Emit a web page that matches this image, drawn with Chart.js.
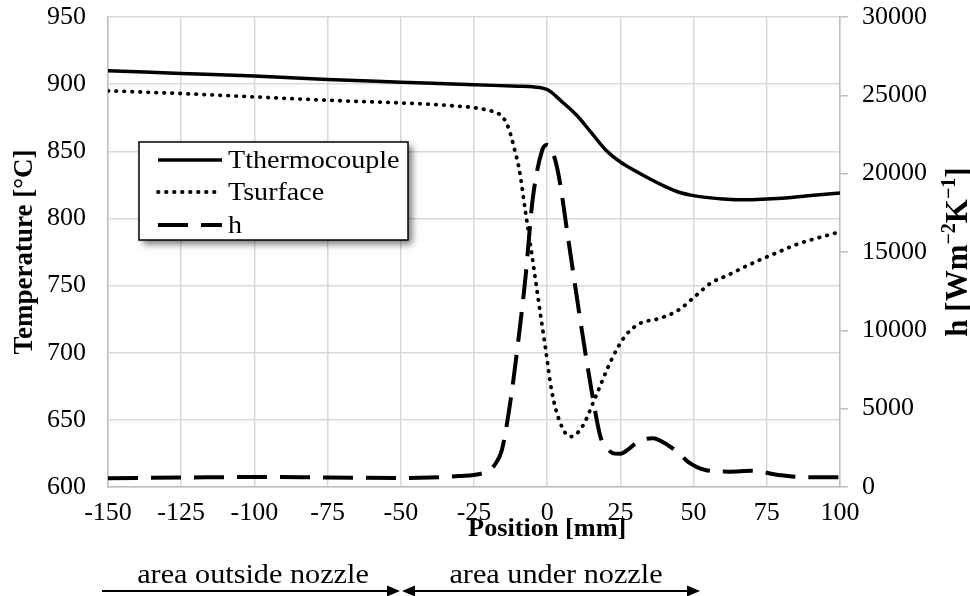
<!DOCTYPE html>
<html>
<head>
<meta charset="utf-8">
<title>Temperature and h along position</title>
<script src="https://cdn.jsdelivr.net/npm/chart.js@4.4.0/dist/chart.umd.min.js"></script>
<style>
  html, body { margin: 0; padding: 0; background: #fff; }
  #wrap { width: 970px; height: 596px; }
</style>
</head>
<body>
<div id="wrap"><canvas id="myChart" width="970" height="596"></canvas></div>
<script>
// values
var thermoPos  = [-150, -125, -100, -75, -50, -25, -10, -5, 0, 5, 10, 15, 20, 25, 30, 35, 40, 45, 50, 55, 60, 65, 70, 75, 80, 85, 90, 95, 100];
var thermoTemp = [910, 908, 906, 903.5, 901.5, 899.5, 898.5, 898, 896, 887, 877, 864, 851, 842, 835.5, 829.5, 824, 819.5, 817, 815.5, 814.5, 814, 814, 814.5, 815, 816, 817, 818, 819];

var surfPos  = [-150, -125, -100, -75, -50, -40, -30, -25, -20, -17, -15, -13, -11, -9.5, -7.5, -5.5, -3, -0.5, 1.5, 4.5, 8, 12, 16.5, 22, 26.5, 31, 39, 45, 50.5, 56, 62, 67.5, 73, 79, 85, 90, 95, 100];
var surfTemp = [895, 893, 890.5, 888, 886, 885, 883.5, 882.5, 880.5, 878.5, 875, 866, 850, 836, 806, 777, 739, 702, 672, 647.5, 637.5, 645, 667, 695, 712, 721, 726, 732, 742, 752, 758, 764, 769.5, 775, 780.5, 784, 787, 790];

var hPos  = [-150, -125, -100, -75, -50, -40, -30, -23, -20, -18, -15.5, -12.5, -9.7, -7.4, -5, -1.7, 0, 2, 4, 7.4, 12, 15.3, 18.2, 20.5, 23, 25, 28, 31, 36, 41, 45, 48, 54, 62, 70, 79, 90, 100];
var hVals = [560, 600, 640, 610, 580, 610, 700, 830, 1050, 1400, 2350, 5550, 9600, 13400, 18300, 21500, 21850, 21300, 19800, 15550, 9800, 6000, 3200, 2450, 2130, 2120, 2450, 2890, 3110, 2700, 2150, 1620, 1080, 980, 1040, 770, 620, 620];

var xTicks = { min: -150, max: 100, step: 25 };
var tempTicks = { min: 600, max: 950, step: 50 };
var hTicks = { min: 0, max: 30000, step: 5000 };

var seriesLabels = ['Tthermocouple', 'Tsurface', 'h'];

var FONT = '"Liberation Serif", "Times New Roman", serif';
var GRID = '#d9d9d9';
var AXIS = '#bfbfbf';

function toPoints(xs, ys) {
    var pts = [];
    xs.forEach(function (x, i) {
        pts.push({ x: x, y: ys[i] });
    });
    return pts;
}

// text squeezed a bit wider, like the original picture
function wideText(ctx, text, x, y, font, sx, align) {
    ctx.save();
    ctx.translate(x, y);
    ctx.scale(sx, 1);
    ctx.font = font;
    ctx.textAlign = align || 'left';
    ctx.textBaseline = 'alphabetic';
    ctx.fillStyle = '#000';
    ctx.fillText(text, 0, 0);
    ctx.restore();
}

function arrowHead(ctx, x, y, dir) {
    ctx.beginPath();
    ctx.moveTo(x, y);
    ctx.lineTo(x - dir * 13, y - 5.5);
    ctx.lineTo(x - dir * 13, y + 5.5);
    ctx.closePath();
    ctx.fill();
}

// keep the plot box where the original has it
function noEdgePadding(scale) {
    scale.paddingTop = 0;
    scale.paddingBottom = 0;
}

var extras = {
    id: 'extras',
    afterDraw: function (chart) {
        var ctx = chart.ctx;
        var area = chart.chartArea;
        var midY = (area.top + area.bottom) / 2;

        // left axis title
        ctx.save();
        ctx.translate(32, midY);
        ctx.rotate(-Math.PI / 2);
        ctx.font = 'bold 27px ' + FONT;
        ctx.textAlign = 'center';
        ctx.fillStyle = '#000';
        ctx.fillText('Temperature [°C]', 0, 0);
        ctx.restore();

        // right axis title with superscripts
        var parts = [['h [Wm', 31, 0], ['\u22122', 20, -12], ['K', 31, 0], ['\u22121', 20, -12], [']', 31, 0]];
        ctx.save();
        ctx.translate(967, midY);
        ctx.rotate(-Math.PI / 2);
        ctx.fillStyle = '#000';
        ctx.textAlign = 'left';
        var total = 0;
        parts.forEach(function (p) {
            ctx.font = 'bold ' + p[1] + 'px ' + FONT;
            total += ctx.measureText(p[0]).width;
        });
        var cx = -total / 2;
        parts.forEach(function (p) {
            ctx.font = 'bold ' + p[1] + 'px ' + FONT;
            ctx.fillText(p[0], cx, p[2]);
            cx += ctx.measureText(p[0]).width;
        });
        ctx.restore();

        // x axis title, centred on position 0
        var x0 = chart.scales.x.getPixelForValue(0);
        wideText(ctx, 'Position [mm]', x0, 536, 'bold 25px ' + FONT, 1.05, 'center');

        // zone labels and arrows
        wideText(ctx, 'area outside nozzle', 253, 583, '27px ' + FONT, 1.12, 'center');
        wideText(ctx, 'area under nozzle', 556, 583, '27px ' + FONT, 1.12, 'center');

        ctx.save();
        ctx.strokeStyle = '#000';
        ctx.fillStyle = '#000';
        ctx.lineWidth = 2;
        ctx.beginPath();
        ctx.moveTo(102, 591);
        ctx.lineTo(392, 591);
        ctx.moveTo(408, 591);
        ctx.lineTo(692, 591);
        ctx.stroke();
        arrowHead(ctx, 400, 591, 1);
        arrowHead(ctx, 402, 591, -1);
        arrowHead(ctx, 700, 591, 1);
        ctx.restore();

        // legend box
        var box = { x: 139, y: 142, w: 269, h: 98 };
        ctx.save();
        ctx.shadowColor = 'rgba(0,0,0,0.55)';
        ctx.shadowBlur = 7;
        ctx.shadowOffsetX = 4;
        ctx.shadowOffsetY = 4;
        ctx.fillStyle = '#fff';
        ctx.fillRect(box.x, box.y, box.w, box.h);
        ctx.restore();
        ctx.save();
        ctx.strokeStyle = '#000';
        ctx.lineWidth = 1.5;
        ctx.strokeRect(box.x, box.y, box.w, box.h);
        ctx.restore();

        var rows = [160, 192, 225];
        chart.data.datasets.forEach(function (ds, i) {
            ctx.save();
            ctx.strokeStyle = ds.borderColor;
            ctx.lineWidth = ds.borderWidth;
            ctx.lineCap = ds.borderCapStyle || 'butt';
            ctx.setLineDash(ds.borderDash || []);
            ctx.beginPath();
            ctx.moveTo(158, rows[i]);
            ctx.lineTo(222, rows[i]);
            ctx.stroke();
            ctx.restore();
            wideText(ctx, ds.label, 228, rows[i] + 8, '26px ' + FONT, 1.08, 'left');
        });
    }
};

var chartData = {
    datasets: [{
        label: seriesLabels[0],
        data: toPoints(thermoPos, thermoTemp),
        yAxisID: 'y',
        borderColor: '#000',
        borderWidth: 3.5,
        pointRadius: 0,
        cubicInterpolationMode: 'monotone',
        fill: false
    }, {
        label: seriesLabels[1],
        data: toPoints(surfPos, surfTemp),
        yAxisID: 'y',
        borderColor: '#000',
        borderWidth: 3.8,
        borderDash: [0.5, 7.5],
        borderCapStyle: 'round',
        pointRadius: 0,
        cubicInterpolationMode: 'monotone',
        fill: false
    }, {
        label: seriesLabels[2],
        data: toPoints(hPos, hVals),
        yAxisID: 'y1',
        borderColor: '#000',
        borderWidth: 4,
        borderDash: [30, 13],
        pointRadius: 0,
        cubicInterpolationMode: 'monotone',
        fill: false
    }]
};

var tickFont = { family: FONT, size: 26 };

var chartOptions = {
    responsive: false,
    animation: false,
    devicePixelRatio: 1,
    layout: { padding: { top: 17, left: 0, right: 0, bottom: 0 } },
    plugins: {
        legend: { display: false },
        tooltip: { enabled: false }
    },
    scales: {
        x: {
            type: 'linear',
            min: xTicks.min,
            max: xTicks.max,
            ticks: {
                stepSize: xTicks.step,
                color: '#000',
                font: tickFont,
                padding: 11,
                maxRotation: 0,
                callback: function (v) { return String(v); }
            },
            grid: { color: GRID, lineWidth: 1.5, drawTicks: false },
            border: { color: AXIS, width: 1.5 },
            afterFit: function (scale) { scale.height = 109; }
        },
        y: {
            position: 'left',
            min: tempTicks.min,
            max: tempTicks.max,
            ticks: {
                stepSize: tempTicks.step,
                color: '#000',
                font: tickFont,
                padding: 22,
                callback: function (v) { return String(v); }
            },
            grid: { color: GRID, lineWidth: 1.5, drawTicks: false },
            border: { color: AXIS, width: 1.5 },
            afterFit: function (scale) { scale.width = 108; noEdgePadding(scale); }
        },
        y1: {
            position: 'right',
            min: hTicks.min,
            max: hTicks.max,
            ticks: {
                stepSize: hTicks.step,
                color: '#000',
                font: tickFont,
                padding: 14,
                callback: function (v) { return String(v); }
            },
            grid: { drawOnChartArea: false, color: AXIS, lineWidth: 1.5, tickLength: 8 },
            border: { color: AXIS, width: 1.5 },
            afterFit: function (scale) { scale.width = 130; noEdgePadding(scale); }
        }
    }
};

var ctx = document.getElementById('myChart').getContext('2d');
var myChart = new Chart(ctx, {
    type: 'line',
    data: chartData,
    options: chartOptions,
    plugins: [extras]
});
</script>
</body>
</html>
